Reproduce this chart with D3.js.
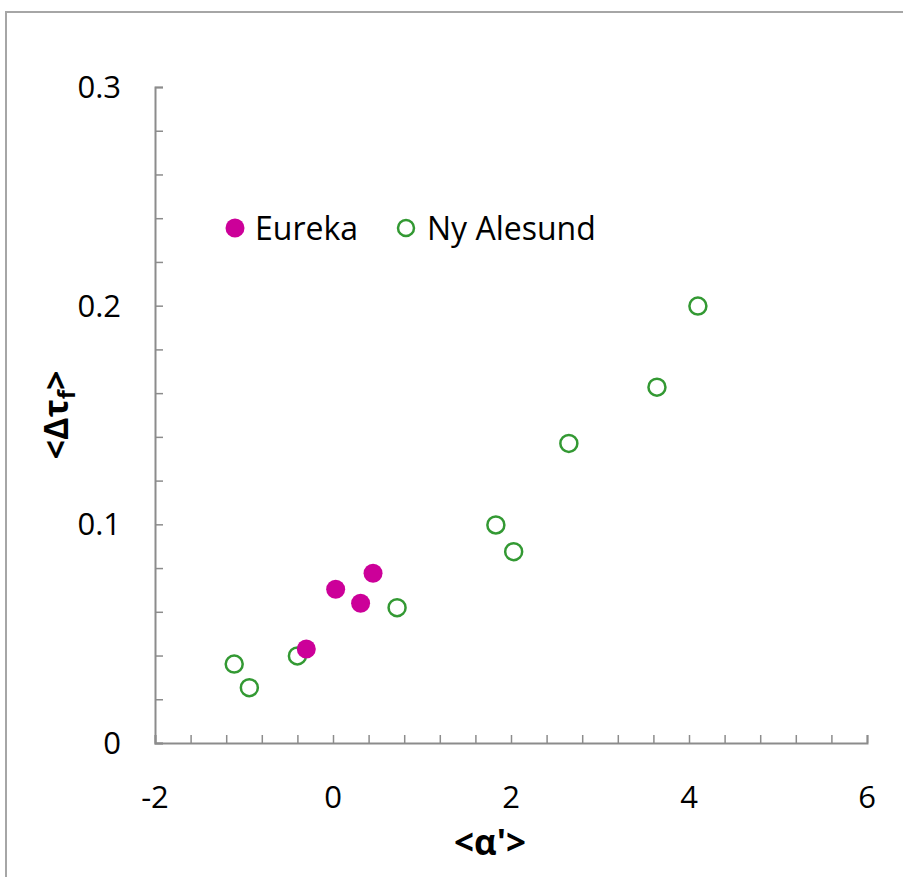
<!DOCTYPE html>
<html>
<head>
  <meta charset="UTF-8">
  <script src="https://d3js.org/d3.v7.min.js"></script>
  <style>
    body { margin: 0; background: #fff; }
    text { font-family: "Open Sans", "Liberation Sans", sans-serif; }
  </style>
</head>
<body>
  <svg id="chart" width="903" height="877"></svg>
  <script>
    // data: <alpha'> vs <delta tau_f>
    const eurekaX = [0.03, 0.45, 0.31, -0.30];
    const eurekaY = [0.0703, 0.0776, 0.0639, 0.0430];
    const nyAlesundX = [-1.11, -0.94, -0.40, 0.72, 1.83, 2.03, 2.65, 3.64, 4.10];
    const nyAlesundY = [0.0361, 0.0253, 0.0398, 0.0619, 0.0997, 0.0875, 0.1370, 0.1627, 0.1998];
    const xTicks = [-2, 0, 2, 4, 6];
    const yTicks = [0, 0.1, 0.2, 0.3];

    const svg = d3.select("svg#chart");
    const margins = { left: 155, right: 36, top: 87, bottom: 134 };
    const width = svg.attr("width");
    const height = svg.attr("height");

    // chart area frame (Excel style border)
    svg.append("rect")
      .attr("x", 6).attr("y", 12)
      .attr("width", 1000).attr("height", 1000)
      .style("fill", "none")
      .style("stroke", "#a6a6a6")
      .style("stroke-width", 2);

    const xScale = d3.scaleLinear().domain([-2, 6]).range([margins.left, width - margins.right]);
    const yScale = d3.scaleLinear().domain([0, 0.3]).range([height - margins.bottom, margins.top]);

    const axisColor = "#8c8c8c";

    // minor + major ticks pointing into the plot
    let bottomAxis = d3.axisBottom(xScale).tickValues(d3.range(-2, 6.001, 0.4)).tickSize(-8).tickFormat("");
    let bottomG = svg.append("g").attr("transform", `translate(0,${yScale(0)})`).call(bottomAxis);
    let leftAxis = d3.axisLeft(yScale).tickValues(d3.range(0, 0.3001, 0.02)).tickSize(-8).tickFormat("");
    let leftG = svg.append("g").attr("transform", `translate(${xScale(-2)},0)`).call(leftAxis);

    [bottomG, leftG].forEach(g => {
      g.selectAll("line").style("stroke", axisColor).style("stroke-width", 1.5);
      g.select(".domain").style("stroke", axisColor).style("stroke-width", 2);
    });

    // tick labels
    svg.selectAll("text.xlab").data(xTicks)
      .join("text").attr("class", "xlab")
      .attr("x", d => xScale(d))
      .attr("y", yScale(0) + 65)
      .attr("text-anchor", "middle")
      .style("font-size", "31px")
      .text(d => d);

    svg.selectAll("text.ylab").data(yTicks)
      .join("text").attr("class", "ylab")
      .attr("x", xScale(-2) - 34)
      .attr("y", d => yScale(d) + 11)
      .attr("text-anchor", "end")
      .style("font-size", "31px")
      .text(d => d === 0 ? "0" : d.toFixed(1));

    // axis titles
    svg.append("text")
      .attr("x", 490).attr("y", 855)
      .attr("text-anchor", "middle")
      .style("font-size", "35px").style("font-weight", "bold")
      .text("<α'>");

    let yTitle = svg.append("text")
      .attr("transform", "translate(68,415) rotate(-90)")
      .attr("text-anchor", "middle")
      .style("font-size", "34px").style("font-weight", "bold");
    yTitle.append("tspan").text("<Δτ");
    yTitle.append("tspan").attr("dy", 7).style("font-size", "24px").text("f");
    yTitle.append("tspan").attr("dy", -7).text(">");

    // points
    const eureka = eurekaX.map((x, i) => ({ x: x, y: eurekaY[i] }));
    const nyAlesund = nyAlesundX.map((x, i) => ({ x: x, y: nyAlesundY[i] }));

    svg.selectAll("circle.ny").data(nyAlesund)
      .join("circle").attr("class", "ny")
      .attr("cx", d => xScale(d.x)).attr("cy", d => yScale(d.y))
      .attr("r", 8.5)
      .style("fill", "none").style("stroke", "#339933").style("stroke-width", 2.5);

    svg.selectAll("circle.eu").data(eureka)
      .join("circle").attr("class", "eu")
      .attr("cx", d => xScale(d.x)).attr("cy", d => yScale(d.y))
      .attr("r", 9.5)
      .style("fill", "#cc0099");

    // legend
    svg.append("circle").attr("cx", 235).attr("cy", 228).attr("r", 9.5).style("fill", "#cc0099");
    svg.append("text").attr("x", 255).attr("y", 240).style("font-size", "32px").text("Eureka");
    svg.append("circle").attr("cx", 406).attr("cy", 228).attr("r", 8)
      .style("fill", "none").style("stroke", "#339933").style("stroke-width", 2.5);
    svg.append("text").attr("x", 427).attr("y", 240).style("font-size", "32px").text("Ny Alesund");
  </script>
</body>
</html>
